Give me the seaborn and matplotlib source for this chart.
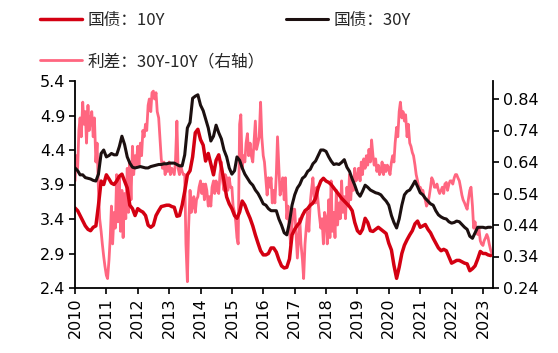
import numpy as np
import pandas as pd
import matplotlib
matplotlib.use("Agg")
import matplotlib.pyplot as plt
import seaborn as sns

# ---------------- data ----------------
y10 = [
    3.56, 3.52, 3.45, 3.37, 3.30, 3.25, 3.23, 3.28, 3.30, 3.60, 3.95, 3.90,  # 2010
    4.04, 3.98, 3.92, 3.90, 3.95, 4.02, 4.05, 3.95, 3.85, 3.60, 3.55, 3.45,  # 2011
    3.55, 3.52, 3.50, 3.45, 3.31, 3.28, 3.31, 3.45, 3.52, 3.58, 3.59, 3.60,  # 2012
    3.60, 3.58, 3.57, 3.44, 3.45, 3.60, 3.80, 4.04, 4.10, 4.30, 4.65, 4.70,  # 2013
    4.55, 4.47, 4.24, 4.35, 4.20, 4.04, 4.25, 4.33, 4.15, 3.95, 3.72, 3.62,  # 2014
    3.55, 3.45, 3.41, 3.50, 3.66, 3.60, 3.50, 3.41, 3.30, 3.17, 3.05, 2.94,  # 2015
    2.88, 2.88, 2.90, 2.98, 2.98, 2.92, 2.81, 2.72, 2.69, 2.70, 2.82, 3.17,  # 2016
    3.25, 3.31, 3.35, 3.45, 3.52, 3.55, 3.60, 3.63, 3.70, 3.85, 3.95, 3.99,  # 2017
    3.95, 3.93, 3.90, 3.85, 3.80, 3.75, 3.70, 3.66, 3.62, 3.58, 3.52, 3.35,  # 2018
    3.23, 3.19, 3.25, 3.41, 3.35, 3.23, 3.22, 3.25, 3.28, 3.25, 3.22, 3.19,  # 2019
    3.05, 2.95, 2.73, 2.54, 2.70, 2.90, 3.02, 3.10, 3.17, 3.23, 3.33, 3.37,  # 2020
    3.28, 3.30, 3.32, 3.25, 3.20, 3.12, 3.05, 2.98, 2.94, 2.96, 2.94, 2.85,  # 2021
    2.76, 2.78, 2.80, 2.80, 2.78, 2.76, 2.75, 2.65, 2.68, 2.72, 2.82, 2.93,  # 2022
    2.90, 2.90, 2.88, 2.87,                                                  # 2023
]
y30 = [
    4.14, 4.10, 4.04, 4.04, 4.00, 3.99, 3.98, 3.96, 3.95, 4.05, 4.35, 4.40,  # 2010
    4.30, 4.32, 4.35, 4.33, 4.33, 4.45, 4.60, 4.48, 4.30, 4.21, 4.15, 4.14,  # 2011
    4.15, 4.16, 4.15, 4.14, 4.14, 4.16, 4.17, 4.18, 4.19, 4.19, 4.20, 4.20,  # 2012
    4.21, 4.21, 4.21, 4.19, 4.17, 4.17, 4.33, 4.72, 4.80, 5.15, 5.18, 5.20,  # 2013
    5.05, 4.97, 4.85, 4.72, 4.53, 4.60, 4.76, 4.65, 4.56, 4.40, 4.30, 4.14,  # 2014
    4.05, 4.10, 4.30, 4.25, 4.14, 4.05, 3.99, 3.93, 3.89, 3.82, 3.77, 3.70,  # 2015
    3.62, 3.60, 3.55, 3.52, 3.52, 3.52, 3.40, 3.31, 3.20, 3.17, 3.35, 3.60,  # 2016
    3.75, 3.85, 3.90, 3.99, 4.02, 4.09, 4.12, 4.20, 4.24, 4.32, 4.40, 4.40,  # 2017
    4.38, 4.30, 4.24, 4.19, 4.20, 4.19, 4.22, 4.26, 4.15, 4.09, 3.98, 3.89,  # 2018
    3.78, 3.73, 3.80, 3.89, 3.86, 3.82, 3.80, 3.78, 3.77, 3.75, 3.70, 3.66,  # 2019
    3.60, 3.45, 3.35, 3.27, 3.40, 3.60, 3.75, 3.80, 3.82, 3.88, 3.95, 3.87,  # 2020
    3.78, 3.75, 3.70, 3.66, 3.62, 3.60, 3.52, 3.46, 3.43, 3.41, 3.40, 3.36,  # 2021
    3.34, 3.35, 3.37, 3.36, 3.32, 3.28, 3.25, 3.15, 3.12, 3.20, 3.28, 3.28,  # 2022
    3.28, 3.27, 3.28, 3.28,                                                  # 2023
]
spread = [
    # 2010
    0.58, 0.66, 0.62, 0.74, 0.78, 0.72, 0.83, 0.76, 0.80, 0.70, 0.82, 0.74,
    0.77, 0.80, 0.72, 0.78, 0.64, 0.70, 0.55, 0.46, 0.42, 0.38, 0.34, 0.31,
    # 2011
    0.28, 0.27, 0.33, 0.40, 0.50, 0.38, 0.48, 0.43, 0.60, 0.45, 0.59, 0.42,
    0.55, 0.40, 0.54, 0.46, 0.62, 0.48, 0.64, 0.52, 0.69, 0.60, 0.66, 0.63,
    # 2012
    0.69, 0.63, 0.70, 0.66, 0.74, 0.72, 0.76, 0.74, 0.82, 0.84, 0.80, 0.86,
    0.865, 0.84, 0.86, 0.80, 0.78, 0.72, 0.65, 0.62, 0.64, 0.60, 0.63, 0.61,
    # 2013
    0.64, 0.60, 0.62, 0.61, 0.60, 0.64, 0.77, 0.62, 0.60, 0.63, 0.61, 0.60,
    0.60, 0.38, 0.26, 0.43, 0.55, 0.48, 0.50, 0.53, 0.48, 0.52, 0.53, 0.56,
    # 2014
    0.58, 0.54, 0.57, 0.52, 0.57, 0.55, 0.50, 0.53, 0.50, 0.56, 0.58, 0.54,
    0.58, 0.55, 0.54, 0.60, 0.64, 0.58, 0.55, 0.60, 0.59, 0.55, 0.59, 0.56,
    # 2015
    0.56, 0.50, 0.48, 0.45, 0.40, 0.38, 0.76, 0.79, 0.62, 0.66, 0.64, 0.70,
    0.73, 0.66, 0.70, 0.66, 0.64, 0.70, 0.77, 0.68, 0.70, 0.72, 0.83, 0.72,
    # 2016
    0.66, 0.64, 0.58, 0.535, 0.59, 0.56, 0.59, 0.51, 0.55, 0.51, 0.60, 0.72,
    0.62, 0.535, 0.56, 0.59, 0.52, 0.59, 0.46, 0.50, 0.42, 0.38, 0.44, 0.49,
    # 2017
    0.49, 0.42, 0.335, 0.40, 0.46, 0.38, 0.33, 0.27, 0.38, 0.43, 0.48, 0.42,
    0.51, 0.55, 0.59, 0.53, 0.51, 0.56, 0.51, 0.47, 0.43, 0.46, 0.38, 0.48,
    # 2018
    0.46, 0.38, 0.52, 0.40, 0.58, 0.42, 0.48, 0.40, 0.55, 0.44, 0.51, 0.46,
    0.58, 0.48, 0.53, 0.46, 0.56, 0.50, 0.60, 0.52, 0.59, 0.55, 0.62, 0.58,
    # 2019
    0.59, 0.62, 0.58, 0.64, 0.60, 0.65, 0.62, 0.66, 0.63, 0.68, 0.64, 0.71,
    0.66, 0.63, 0.65, 0.61, 0.63, 0.60, 0.61, 0.64, 0.60, 0.63, 0.61, 0.63,
    # 2020
    0.62, 0.60, 0.64, 0.66, 0.64, 0.70, 0.75, 0.72, 0.80, 0.83, 0.78, 0.80,
    0.77, 0.79, 0.72, 0.76, 0.70, 0.69, 0.67, 0.66, 0.63, 0.60, 0.58, 0.56,
    # 2021
    0.56, 0.55, 0.55, 0.53, 0.52, 0.50, 0.51, 0.53, 0.56, 0.59, 0.58, 0.56,
    0.56, 0.57, 0.55, 0.54, 0.55, 0.56, 0.54, 0.57, 0.575, 0.55, 0.57, 0.58,
    # 2022
    0.58, 0.57, 0.59, 0.60, 0.60, 0.59, 0.58, 0.56, 0.535, 0.52, 0.51, 0.50,
    0.49, 0.52, 0.55, 0.56, 0.50, 0.43, 0.45, 0.42, 0.41, 0.43, 0.39, 0.38,
    # 2023
    0.375, 0.39, 0.40, 0.41, 0.40, 0.38, 0.36, 0.35,
]
labels = ["国债：10Y", "国债：30Y", "利差：30Y-10Y（右轴）"]
year_ticks = list(range(2010, 2024))

months = pd.date_range("2010-01-01", periods=len(y10), freq="MS")
half_months = pd.date_range("2010-01-01", periods=len(spread), freq="SMS")
df_main = pd.DataFrame({"date": months, "y10": y10, "y30": y30})
df_spread = pd.DataFrame({"date": half_months, "spread": spread})

# ---------------- style ----------------
sns.set_style("ticks")
plt.rcParams["font.family"] = ["DejaVu Sans", "Noto Sans CJK SC"]

RED = "#D40012"
BLACK = "#1C1010"
PINK = "#FF6680"

fig = plt.figure(figsize=(5.58, 3.53), dpi=100)
ax = fig.add_axes([75 / 558, 1 - 288 / 353, (493 - 75) / 558, (288 - 81) / 353])
ax2 = ax.twinx()

sns.lineplot(data=df_spread, x="date", y="spread", ax=ax2, color=PINK,
             linewidth=2.0, label=labels[2], legend=False)
sns.lineplot(data=df_main, x="date", y="y10", ax=ax, color=RED,
             linewidth=2.5, label=labels[0], legend=False)
sns.lineplot(data=df_main, x="date", y="y30", ax=ax, color=BLACK,
             linewidth=2.2, label=labels[1], legend=False)

# put pink underneath
ax.set_zorder(ax2.get_zorder() + 1)
ax.patch.set_visible(False)

ax.set_xlim(pd.Timestamp("2010-01-01"), pd.Timestamp("2023-04-28"))
ax.set_ylim(2.4, 5.4)
ax.set_yticks(np.arange(2.4, 5.41, 0.5))
ax.yaxis.set_major_formatter(matplotlib.ticker.FormatStrFormatter("%.1f"))
ax2.set_ylim(0.24, 0.24 + 207 / 315 * 1.0)
ax2.set_yticks(np.arange(0.24, 0.845, 0.1))
ax2.yaxis.set_major_formatter(matplotlib.ticker.FormatStrFormatter("%.2f"))

ax.set_xticks([pd.Timestamp(f"{y}-01-01") for y in year_ticks])
ax.set_xticklabels([str(y) for y in year_ticks], rotation=90)

for a in (ax, ax2):
    a.set_xlabel("")
    a.set_ylabel("")
    a.spines["top"].set_visible(False)
    for s in a.spines.values():
        s.set_color("black")
        s.set_linewidth(1.3)
    a.tick_params(axis="both", labelsize=11.5, length=4, width=1.2,
                  colors="black", direction="out", pad=3)
ax.spines["right"].set_visible(False)
ax2.spines["left"].set_visible(False)
ax2.spines["bottom"].set_visible(False)

h1, l1 = ax.get_legend_handles_labels()
h2, l2 = ax2.get_legend_handles_labels()
handles = [h1[0], h2[0], h1[1]]
leg_labels = [l1[0], l2[0], l1[1]]
fig.legend(handles, leg_labels, loc="upper left", bbox_to_anchor=(40 / 558, 1 - 12 / 353),
           ncol=2, frameon=False, handlelength=2.5, handletextpad=0.35,
           labelspacing=1.45, columnspacing=1.3, borderpad=0, borderaxespad=0,
           prop={"family": ["Noto Sans CJK SC", "DejaVu Sans"], "size": 12})

fig.savefig("out.png", dpi=100)
